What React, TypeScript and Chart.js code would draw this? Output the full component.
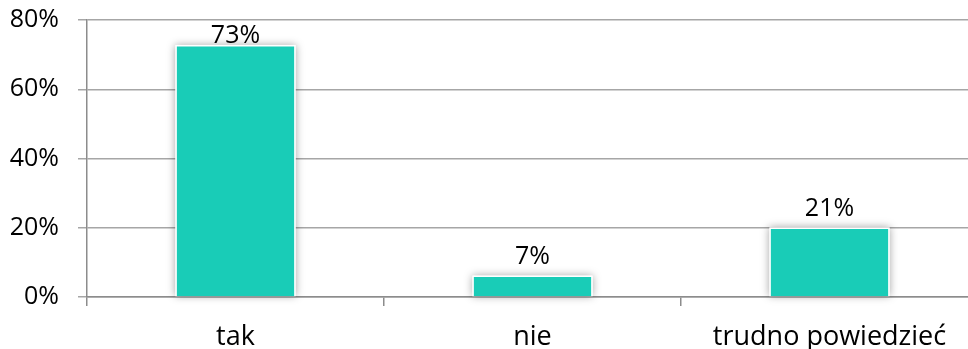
import React, { useEffect, useRef } from "react";
import { Chart, registerables } from "chart.js";

Chart.register(...registerables);

const categories = ["tak", "nie", "trudno powiedzieć"];
const values = [72.8, 6.2, 20.1];
const valueLabels = ["73%", "7%", "21%"];
const yTicks = [0, 20, 40, 60, 80];

const FONT = "'Open Sans', sans-serif";
const BAR_COLOR = "#19CCB7";

const shadowPlugin = {
  id: "barShadow",
  beforeDatasetsDraw(chart: any) {
    const ctx = chart.ctx;
    const meta = chart.getDatasetMeta(0);
    ctx.save();
    ctx.shadowColor = "rgba(0,0,0,0.35)";
    ctx.shadowBlur = 8;
    ctx.shadowOffsetX = 0;
    ctx.shadowOffsetY = 0;
    ctx.fillStyle = "#ffffff";
    meta.data.forEach((bar: any) => {
      const w = bar.width;
      const top = bar.y;
      const bottom = bar.base;
      ctx.fillRect(bar.x - w / 2, top, w, bottom - top);
    });
    ctx.restore();
  },
};

const labelPlugin = {
  id: "valueLabels",
  afterDatasetsDraw(chart: any) {
    const ctx = chart.ctx;
    const meta = chart.getDatasetMeta(0);
    ctx.save();
    ctx.font = `25px ${FONT}`;
    ctx.fillStyle = "#000";
    ctx.textAlign = "center";
    ctx.textBaseline = "bottom";
    meta.data.forEach((bar: any, i: number) => {
      const y = Math.max(bar.y - 6, chart.chartArea.top + 28);
      ctx.fillText(valueLabels[i], bar.x, y);
    });
    ctx.restore();
  },
};

export default function App() {
  const ref = useRef<HTMLCanvasElement>(null);
  useEffect(() => {
    if (!ref.current) return;
    const chart = new Chart(ref.current, {
      type: "bar",
      data: {
        labels: categories,
        datasets: [
          {
            data: values,
            backgroundColor: BAR_COLOR,
            borderColor: "#ffffff",
            borderWidth: 1.5,
            barPercentage: 0.405,
            categoryPercentage: 1,
          },
        ],
      },
      options: {
        responsive: false,
        animation: false,
        layout: { padding: { top: 0, left: 0, right: 2, bottom: 0 } },
        plugins: { legend: { display: false }, tooltip: { enabled: false } },
        scales: {
          x: {
            afterFit: (s: any) => {
              s.height = 52;
            },
            grid: {
              offset: true,
              drawOnChartArea: false,
              drawTicks: true,
              tickLength: 9,
              color: "#8c8c8c",
              lineWidth: 1.5,
            },
            border: { color: "#8c8c8c", width: 1.5 },
            ticks: { font: { family: FONT, size: 27 }, color: "#000", padding: 15 },
          },
          y: {
            min: 0,
            max: 80,
            afterFit: (s: any) => {
              s.width = 87;
              s.paddingTop = 20;
              s.paddingBottom = 0;
            },
            afterBuildTicks: (axis: any) => {
              axis.ticks = yTicks.map((v) => ({ value: v }));
            },
            grid: { color: "#a6a6a6", lineWidth: 1.5, tickLength: 9 },
            border: { color: "#8c8c8c", width: 1.5 },
            ticks: {
              font: { family: FONT, size: 25 },
              color: "#000",
              padding: 19,
              callback: (v: any) => v + "%",
            },
          },
        },
      },
      plugins: [shadowPlugin, labelPlugin],
    });
    return () => chart.destroy();
  }, []);
  return (
    <div style={{ position: "fixed", left: 0, top: 0, width: 968, height: 349, overflow: "hidden", background: "#fff" }}>
      <canvas ref={ref} width={980} height={349} style={{ display: "block" }} />
    </div>
  );
}
